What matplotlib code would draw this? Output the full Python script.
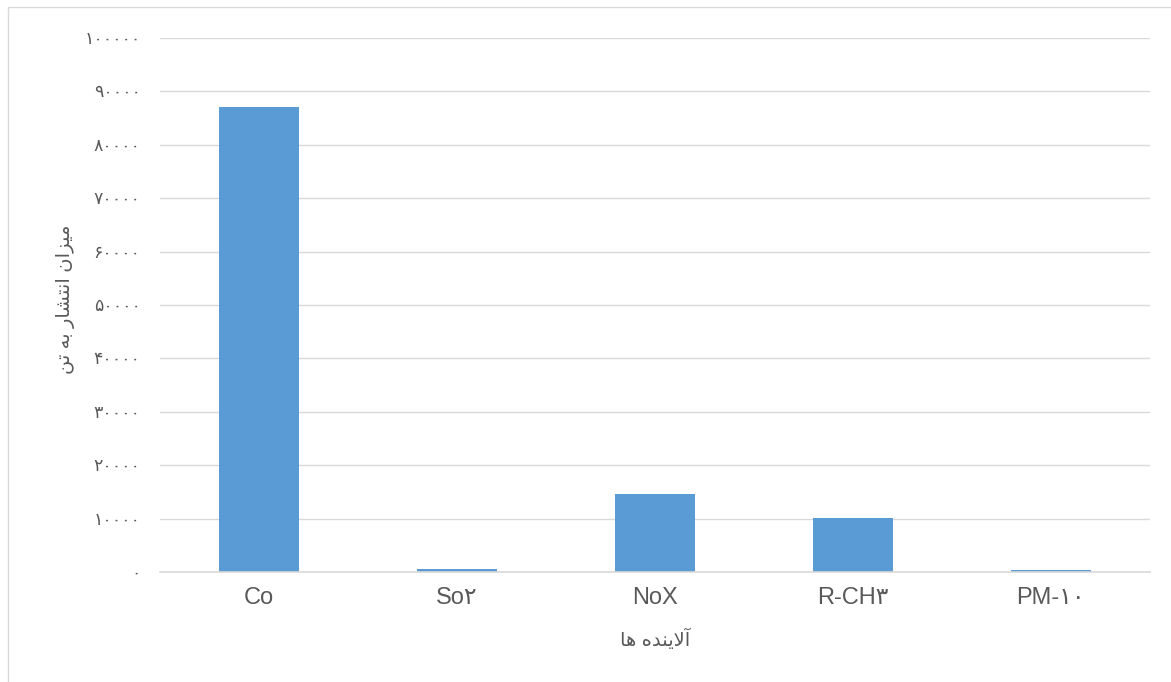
import matplotlib.pyplot as plt
from matplotlib.patches import Rectangle

# Data
pollutants = ['Co', 'So۲', 'NoX', 'R-CH۳', 'PM-۱۰']
emissions = [87100, 550, 14600, 10100, 300]
y_ticks = [0, 10000, 20000, 30000, 40000, 50000, 60000, 70000, 80000, 90000, 100000]
x_title = 'آلاینده ها'
y_title = 'میزان انتشار به تن'

# Tiny Persian shaper (matplotlib does no RTL shaping)
FORMS = {  # isolated, final, initial, medial
    'آ': ('\uFE81', '\uFE82'), 'ا': ('\uFE8D', '\uFE8E'),
    'د': ('\uFEA9', '\uFEAA'), 'ر': ('\uFEAD', '\uFEAE'), 'ز': ('\uFEAF', '\uFEB0'),
    'ب': ('\uFE8F', '\uFE90', '\uFE91', '\uFE92'), 'ت': ('\uFE95', '\uFE96', '\uFE97', '\uFE98'),
    'ش': ('\uFEB5', '\uFEB6', '\uFEB7', '\uFEB8'), 'ل': ('\uFEDD', '\uFEDE', '\uFEDF', '\uFEE0'),
    'م': ('\uFEE1', '\uFEE2', '\uFEE3', '\uFEE4'), 'ن': ('\uFEE5', '\uFEE6', '\uFEE7', '\uFEE8'),
    'ه': ('\uFEE9', '\uFEEA', '\uFEEB', '\uFEEC'), 'ی': ('\uFBFC', '\uFBFD', '\uFBFE', '\uFBFF'),
}
LAM_ALEF = {'ا': ('\uFEFB', '\uFEFC'), 'آ': ('\uFEF5', '\uFEF6')}


def shape(text):
    out = []
    chars = list(text)
    i = 0
    while i < len(chars):
        c = chars[i]
        prev = chars[i - 1] if i > 0 else ''
        joins_prev = prev in FORMS and len(FORMS[prev]) == 4
        if c == 'ل' and i + 1 < len(chars) and chars[i + 1] in LAM_ALEF:
            out.append(LAM_ALEF[chars[i + 1]][1 if joins_prev else 0])
            i += 2
            continue
        if c not in FORMS:
            out.append(c)
            i += 1
            continue
        f = FORMS[c]
        nxt = chars[i + 1] if i + 1 < len(chars) else ''
        joins_next = len(f) == 4 and nxt in FORMS
        if joins_prev and joins_next:
            out.append(f[3])
        elif joins_prev:
            out.append(f[1])
        elif joins_next:
            out.append(f[2])
        else:
            out.append(f[0])
        i += 1
    return ''.join(reversed(out))


def fa_digits(n):
    return str(n).translate(str.maketrans('0123456789', '۰۱۲۳۴۵۶۷۸۹'))


text_color = '#595959'
bar_color = '#5B9BD5'
fams = ['Liberation Sans', 'DejaVu Sans']

fig = plt.figure(figsize=(11.71, 6.82), dpi=100)
ax = fig.add_axes([0.1366, 0.1613, 0.8454, 0.7830])

x = range(len(pollutants))
ax.bar(x, emissions, width=0.4, color=bar_color, zorder=3)

ax.set_xlim(-0.5, len(pollutants) - 0.5)
ax.set_ylim(0, 100000)
ax.set_yticks(y_ticks)
ax.set_yticklabels([fa_digits(v) for v in y_ticks], family=fams, fontsize=12.5, color=text_color)
ax.set_xticks(list(x))
ax.set_xticklabels(pollutants, family=fams, fontsize=17, color=text_color)
ax.tick_params(length=0)
ax.tick_params(axis='y', pad=14)
ax.tick_params(axis='x', pad=11)

ax.grid(axis='y', color='#d9d9d9', linewidth=1, zorder=0)
for s in ['top', 'right', 'left']:
    ax.spines[s].set_visible(False)
ax.spines['bottom'].set_color('#d9d9d9')
ax.spines['bottom'].set_linewidth(1.2)
ax.spines['bottom'].set_zorder(4)

ax.set_xlabel(shape(x_title), family=fams, fontsize=14, color=text_color, labelpad=14)
ax.set_ylabel(shape(y_title), family=fams, fontsize=14, color=text_color)
ax.yaxis.set_label_coords(-0.086, 0.51)

# chart border
fig.patches.append(Rectangle((0.007, -0.01), 1.0, 1.0, transform=fig.transFigure,
                             fill=False, edgecolor='#d9d9d9', linewidth=1))

fig.savefig('out.png', dpi=100)
